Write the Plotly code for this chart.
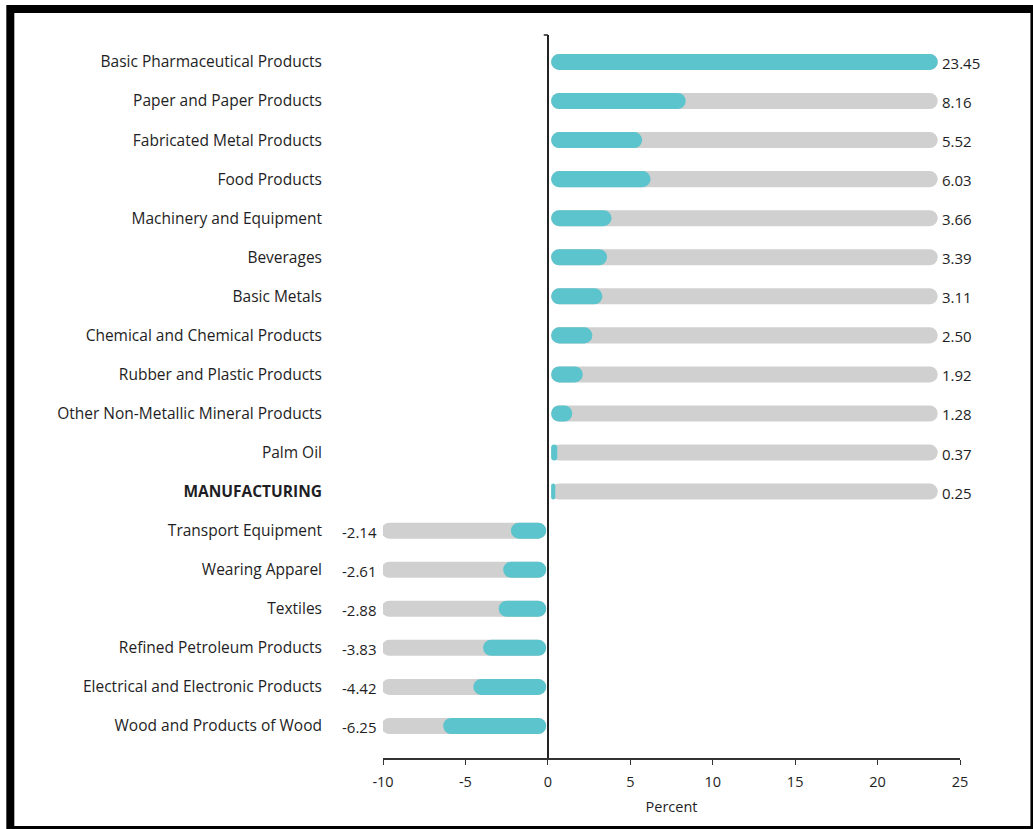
import plotly.graph_objects as go

categories = [
    "Basic Pharmaceutical Products", "Paper and Paper Products", "Fabricated Metal Products",
    "Food Products", "Machinery and Equipment", "Beverages", "Basic Metals",
    "Chemical and Chemical Products", "Rubber and Plastic Products",
    "Other Non-Metallic Mineral Products", "Palm Oil", "<b>MANUFACTURING</b>",
    "Transport Equipment", "Wearing Apparel", "Textiles", "Refined Petroleum Products",
    "Electrical and Electronic Products", "Wood and Products of Wood",
]
values = [23.45, 8.16, 5.52, 6.03, 3.66, 3.39, 3.11, 2.50, 1.92, 1.28, 0.37, 0.25,
          -2.14, -2.61, -2.88, -3.83, -4.42, -6.25]
value_labels = ["23.45", "8.16", "5.52", "6.03", "3.66", "3.39", "3.11", "2.50", "1.92",
                "1.28", "0.37", "0.25", "-2.14", "-2.61", "-2.88", "-3.83", "-4.42", "-6.25"]
pos_track_end = 23.45
neg_track_end = -10
x_ticks = [-10, -5, 0, 5, 10, 15, 20, 25]

TEAL = "#5cc4cc"
GRAY = "#d0d0d0"
FONT = "Open Sans"
TXT = "#1e1e24"
BW = 0.41
GAP_POS, GAP_NEG = 0.2, -0.1   # small visual gap between zero line and the rounded bar ends

ypos = list(range(len(categories)))
tracks = [pos_track_end if v >= 0 else neg_track_end for v in values]
bases = [GAP_POS if v >= 0 else GAP_NEG for v in values]

fig = go.Figure()

def rounded_bar(lengths, color):
    fig.add_trace(go.Bar(
        y=ypos, x=lengths, base=bases, orientation="h",
        width=BW, marker=dict(color=color, cornerradius="50%", line=dict(width=0)),
        hoverinfo="skip", showlegend=False,
    ))

rounded_bar(tracks, GRAY)
rounded_bar(values, TEAL)

annotations = []
for y, t, lab in zip(ypos, tracks, value_labels):
    annotations.append(dict(
        x=t, y=y, xref="x", yref="y", text=lab, showarrow=False,
        xanchor="left" if t > 0 else "right", yanchor="middle",
        xshift=6 if t > 0 else -4, yshift=-1,
        font=dict(family=FONT, size=15, color=TXT),
    ))

L, R, T, B = 383, 960.5, 35, 758
W, H = 1033, 829
pw, ph = R - L, B - T

fig.update_layout(
    width=W, height=H, barmode="overlay",
    margin=dict(l=L, r=W - R, t=T, b=H - B, pad=0),
    paper_bgcolor="white", plot_bgcolor="white",
    font=dict(family=FONT, size=15.5, color=TXT),
    annotations=annotations,
    xaxis=dict(range=[-10, 25], tickvals=x_ticks, ticktext=[str(t) for t in x_ticks],
               tickfont=dict(size=14.5), showgrid=False, zeroline=True,
               zerolinecolor="#222", zerolinewidth=1.5,
               showline=True, linecolor="#333", linewidth=1.5, ticks="outside",
               ticklen=5, tickcolor="#333", ticklabelstandoff=5,
               title=dict(text="Percent", standoff=12, font=dict(size=14.5)),
               fixedrange=True),
    yaxis=dict(range=[17.82, -0.69], tickvals=ypos, ticktext=categories, showgrid=False,
               zeroline=False, showline=False, ticks="", ticklabelstandoff=60,
               fixedrange=True),
    shapes=[
        dict(type="line", xref="x", yref="paper", x0=-0.25, x1=0, y0=1, y1=1,
             line=dict(color="#222", width=1.5)),
        dict(type="rect", xref="paper", yref="paper",
             x0=(10 - L) / pw, x1=(1035 - L) / pw,
             y0=(B - 830) / ph, y1=(B - 9) / ph,
             line=dict(color="black", width=8), fillcolor="rgba(0,0,0,0)",
             layer="above"),
    ],
)

fig.write_html("out.html")
